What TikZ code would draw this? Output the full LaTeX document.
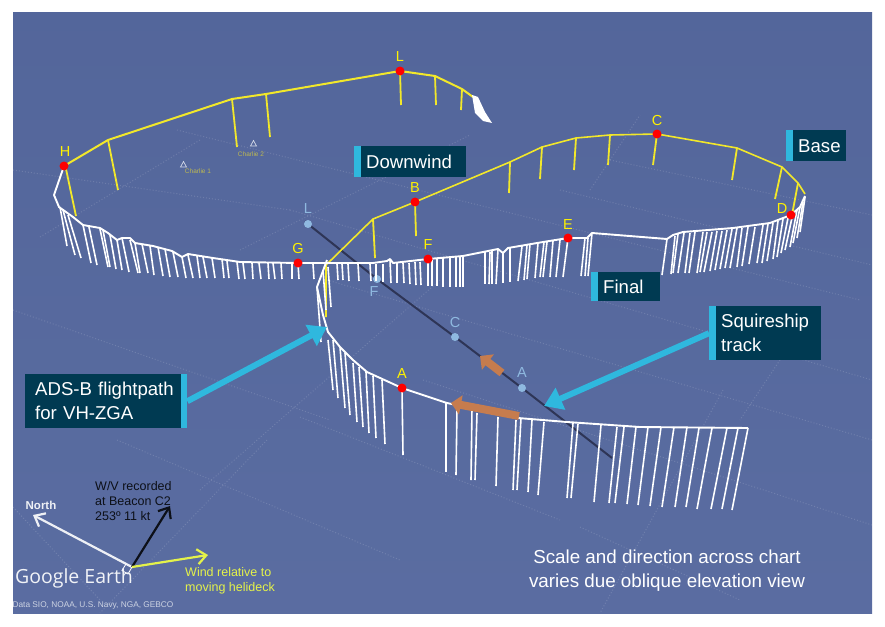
\documentclass[tikz,border=0pt]{standalone}
\usepackage{fontspec}
\setmainfont{Liberation Sans}
\newfontfamily\earthfont{Open Sans}
\usetikzlibrary{arrows.meta, positioning}
\definecolor{seablue}{HTML}{55689E}
\definecolor{boxdark}{HTML}{003A52}
\definecolor{accentcyan}{HTML}{2FB8DE}
\definecolor{pathyellow}{HTML}{F2E82A}
\definecolor{windyellow}{HTML}{E4F24A}
\definecolor{tracknavy}{HTML}{2E3556}
\definecolor{dotblue}{HTML}{8FB9E0}
\definecolor{trackorange}{HTML}{C67C4E}
\tikzset{
  gridline/.style={white, opacity=0.14, dotted, line width=1pt},
  whitepath/.style={white, line width=1.9pt, line join=round},
  hanger/.style={white, line width=1.6pt},
  yellowpath/.style={pathyellow, line width=2pt, line join=round},
  yellowbar/.style={pathyellow, line width=1.8pt},
  reddot/.style={circle, fill=red, inner sep=0pt, minimum size=9pt},
  bluedot/.style={circle, fill=dotblue, inner sep=0pt, minimum size=8pt},
  fixlabel/.style={text=yellow, font=\fontsize{14.5}{14}\selectfont, inner sep=0pt},
  tracklabel/.style={text=dotblue, font=\fontsize{14.5}{14}\selectfont, inner sep=0pt},
  infobox/.style={fill=boxdark, text=white, anchor=north west, align=left, inner xsep=12pt, inner ysep=0pt,
    font=\fontsize{18.6}{24}\selectfont},
  callout/.style={accentcyan, line width=6pt, -{Triangle[length=18pt, width=23pt]}},
  headarrow/.style={trackorange, line width=8pt, -{Triangle[length=10pt, width=19pt]}},
  compass/.style={line width=2.2pt, -{Straight Barb[length=9pt, width=15pt]}},
  smalltext/.style={inner sep=0pt, font=\fontsize{12.5}{15}\selectfont, align=left},
  charlie/.style={text=pathyellow!55!gray, font=\fontsize{6.5}{7}\selectfont, inner sep=0pt},
}

\begin{document}
\begin{tikzpicture}[x=1pt, y=-1pt]
\useasboundingbox (0,0) rectangle (885,626);

%% ─── Sea background and grid ────────────────────────────────────────────────
\fill[white] (0,0) rectangle (885,626);
\shade[top color=seablue!98!black, bottom color=seablue!97!white] (13,13) rectangle (872,613);
\begin{scope}
  \clip (13,13) rectangle (872,613);
  \foreach \xa/\ya/\xb/\yb in {177/130/860/300, 290/210/872/380, 327/280/872/440, 117/440/400/560,
      423/380/872/525, 300/417/560/520, 580/527/740/600, 560/190/872/265, 610/160/872/215,
      13/507/100/600, 13/170/290/210, 13/310/330/420, 723/390/600/613, 440/280/200/490,
      267/440/100/613, 40/237/200/140, 240/250/470/135, 590/190/640/115, 800/330/740/420} {
    \draw[gridline] (\xa,\ya) -- (\xb,\yb);
  }
\end{scope}

%% ─── Charlie markers ────────────────────────────────────────────────────────
\draw[white!75!seablue, line width=0.7pt] (180.5,167) -- (183.5,161.5) -- (186.5,167) -- cycle;
\draw[white!75!seablue, line width=0.7pt] (250.5,146) -- (253.5,140.5) -- (256.5,146) -- cycle;
\node[charlie] (charlieOne) at (198,171) {Charlie 1};
\node[charlie] (charlieTwo) at (251,154) {Charlie 2};

%% ─── Squireship track ───────────────────────────────────────────────────────
\node[bluedot] (trackL) at (308,224) {};
\node[bluedot] (trackF) at (377,279) {};
\node[bluedot] (trackC) at (455,337) {};
\node[bluedot] (trackA) at (522,388) {};
\coordinate (trackStart) at (612,458);
\coordinate (trackNose) at (305,221);
\draw[tracknavy, line width=2pt] (trackStart) -- (trackA) -- (trackC) -- (trackF) -- (trackL) -- (trackNose);
\node[tracklabel] (labL) at (308,209) {L};
\node[tracklabel] (labF) at (374,292) {F};
\node[tracklabel] (labC) at (455,323) {C};
\node[tracklabel] (labA) at (522,373) {A};

%% ─── Yellow flightpath and its droplines ────────────────────────────────────
\draw[yellowpath] (64,166) -- (108,140) -- (232,99) -- (266,94) -- (400,71) -- (435,76) -- (462,89) -- (473,97);
\draw[yellowpath, line width=1.6pt] (326,317) -- (326,265) -- (373,219) -- (415,202) -- (510,162) -- (542,147)
  -- (576,138) -- (610,135) -- (657,134) -- (737,148) -- (782,167) -- (798,183) -- (805,194);
\foreach \xa/\ya/\xb/\yb in {66/169/76/216, 108/140/118/190, 232/99/237/147, 266/94/270/137,
    400/71/401/105, 435/76/436/105, 462/89/461/110, 373/219/375/258, 415/202/416/236,
    510/162/509/193, 542/147/540/179, 576/138/574/170, 610/135/608/165, 657/134/653/165,
    737/148/732/180, 782/167/775/199, 798/183/792/215} {
  \draw[yellowbar] (\xa,\ya) -- (\xb,\yb);
}
\fill[white] (472,95) -- (478,97) -- (485,112) -- (492,123) -- (483,121) -- (475,113) -- cycle;

%% ─── White ADS-B path ───────────────────────────────────────────────────────
\draw[whitepath] (64,166) -- (54,195) -- (59,207) -- (73,217) -- (83,225) -- (100,228) -- (108,233) -- (117,240)
  -- (122,238) -- (130,238) -- (135,243) -- (153,246) -- (172,251) -- (182,257) -- (188,254) -- (213,258)
  -- (240,262) -- (298,263) -- (373,263) -- (387,261) -- (390,259) -- (393,263) -- (428,259) -- (463,256)
  -- (483,252) -- (498,249) -- (503,253) -- (508,248) -- (543,242) -- (568,238) -- (587,238) -- (592,233)
  -- (667,239) -- (673,235) -- (683,232) -- (733,228) -- (770,223) -- (791,215) -- (800,207) -- (805,196);
\draw[whitepath] (327,260) -- (317,287) -- (323,315) -- (328,332) -- (340,347) -- (353,360) -- (367,372)
  -- (402,388) -- (447,403) -- (518,418) -- (567,422) -- (640,427) -- (748,428);

%% left and centre of the circuit
\foreach \xa/\ya/\xb/\yb in {60/207/67/246, 63/210/75/255, 68/215/81/258, 83/225/91/263, 89/227/97/265,
    100/229/108/267, 103/230/110/267, 110/235/116/269, 117/240/122/270, 122/238/129/272, 130/240/138/273,
    135/243/140/273, 142/244/148/273, 150/246/154/275, 158/247/163/276, 165/249/170/277, 173/252/178/277,
    182/257/186/278, 188/255/193/278, 197/256/200/278, 203/257/207/278, 212/258/215/278, 222/259/224/278,
    227/261/229/278, 237/262/239/279, 243/263/245/279, 252/263/253/279, 259/263/261/279, 268/263/269/279,
    273/263/275/279, 281/263/282/279, 292/264/292/279, 298/264/299/279, 313/264/314/279,
    337/264/338/280, 342/264/343/280, 348/264/349/281, 358/264/359/281, 370/264/371/281, 376/264/376/281,
    383/264/383/282, 390/260/391/283, 397/263/397/283, 403/263/404/283, 409/263/410/284, 415/262/416/285,
    420/262/421/285, 428/260/428/286, 432/260/432/286, 437/259/437/286, 443/258/443/287, 450/258/450/287,
    456/257/456/287, 460/256/460/287, 463/256/463/287, 485/252/485/284, 490/252/489/284, 492/251/492/284,
    498/249/496/284, 503/252/503/283, 510/247/510/282, 522/246/518/281, 527/245/524/280, 530/244/527/279,
    538/243/535/278, 544/242/540/277, 547/242/543/277, 553/241/550/277, 560/240/556/277, 568/238/563/277} {
  \draw[hanger] (\xa,\ya) -- (\xb,\yb);
}
%% right of the circuit
\foreach \xa/\ya/\xb/\yb in {585/238/581/276, 588/238/585/276, 592/233/588/276, 667/239/662/275, 675/236/671/274,
    678/234/673/273, 684/233/678/273, 690/233/685/273, 695/232/689/273, 703/232/697/273, 707/232/700/272,
    712/232/704/272, 717/231/710/271, 722/231/715/270, 727/230/720/269, 732/229/725/268, 737/228/730/268,
    742/228/737/267, 748/227/742/266, 755/227/749/264, 763/225/757/263, 768/224/762/263, 773/223/767/261,
    778/221/773/259, 783/219/777/257, 788/218/781/253, 793/213/785/250, 797/210/790/247, 800/207/793/243,
    803/202/797/238, 805/197/800/232} {
  \draw[hanger] (\xa,\ya) -- (\xb,\yb);
}
%% final approach
\foreach \xa/\ya/\xb/\yb in {317/287/321/342, 328/267/331/307, 323/270/326/310, 328/340/333/390, 333/340/338/398,
    340/347/345/408, 345/353/350/415, 353/363/357/422, 359/367/363/427, 366/372/369/433, 373/376/376/438,
    382/380/385/444, 402/390/403/455, 446/403/446/472, 457/408/456/475, 472/408/471/480, 477/413/475/480,
    498/417/496/486, 516/420/513/490, 521/418/517/490, 532/420/528/492, 544/422/538/495, 573/423/567/498,
    578/424/571/498, 601/425/594/502, 617/427/609/503, 624/427/615/503, 636/427/627/504, 648/427/638/505,
    661/427/650/506, 674/427/662/507, 687/427/675/507, 699/428/686/507, 712/428/697/509, 727/428/711/509,
    738/428/722/509, 748/428/732/510} {
  \draw[hanger] (\xa,\ya) -- (\xb,\yb);
}

%% ─── Red fixes ──────────────────────────────────────────────────────────────
\foreach \lbl/\px/\py/\lx/\ly in {H/64/166/65/152, L/400/71/400/57, B/415/202/415/188, C/657/134/657/121,
    D/791/215/782/209, E/568/238/568/225, F/428/259/428/245, G/298/263/298/249, A/402/388/402/374} {
  \node[reddot] (fix\lbl) at (\px,\py) {};
  \node[fixlabel] (name\lbl) at (\lx,\ly) {\lbl};
}

%% ─── Orange heading arrows ──────────────────────────────────────────────────
\coordinate (headAtail) at (502,373);
\coordinate (headAtip) at (480,356);
\coordinate (headBtail) at (519,416);
\coordinate (headBtip) at (451,403);
\draw[headarrow] (headAtail) -- (headAtip);
\draw[headarrow] (headBtail) -- (headBtip);

%% ─── Text boxes ─────────────────────────────────────────────────────────────
\node[infobox, minimum height=31pt, text width=88pt] (downwind) at (354,146) {Downwind};
\node[infobox, minimum height=31pt, text width=36pt] (base) at (786,130) {Base};
\node[infobox, minimum height=29pt, text width=45pt] (final) at (591,272) {Final};
\node[infobox, minimum height=54pt, text width=88pt] (squireship) at (709,306) {Squireship\\track};
\node[infobox, minimum height=54pt, inner xsep=10pt, text width=142pt] (adsb) at (25,374) {ADS-B flightpath\\for VH-ZGA};
\foreach \boxname in {downwind, base, final, squireship} {
  \fill[accentcyan] (\boxname.north west) rectangle ([xshift=7pt]\boxname.south west);
}
\fill[accentcyan] ([xshift=-6pt]adsb.north east) rectangle (adsb.south east);

%% ─── Callout arrows ─────────────────────────────────────────────────────────
\coordinate (adsbTip) at (327,327);
\coordinate (trackTip) at (544,406);
\draw[callout] (adsb.east) -- (adsbTip);
\draw[callout] (squireship.west) -- (trackTip);

%% ─── Compass group ──────────────────────────────────────────────────────────
\coordinate (compassO) at (132,567);
\coordinate (northTip) at (33,515);
\coordinate (windTip) at (170,506);
\coordinate (relTip) at (208,555);
\draw[compass, white!90!seablue] (compassO) -- (northTip);
\draw[compass, black!85!seablue] (compassO) -- (windTip);
\draw[compass, windyellow] (compassO) -- (relTip);
\draw[white, line width=0.8pt] (132,567) -- (128,574) -- (122,570.5) -- (126,564);
\node[smalltext, text=white!90!seablue, font=\bfseries\fontsize{11.5}{14}\selectfont] (northLabel) at (41,505) {North};
\node[smalltext, text=black!85!seablue, anchor=north west] (wvLabel) at (95,481) {W/V recorded\\at Beacon C2\\253º 11 kt};
\node[smalltext, text=windyellow, anchor=north west] (relLabel) at (185,567) {Wind relative to\\moving helideck};

%% ─── Google Earth credit and note ───────────────────────────────────────────
\node[text=white!92!seablue, inner sep=0pt, font=\earthfont\fontsize{19.5}{20}\selectfont] (earth) at (74,578) {Google Earth};
\node[text=white!70!seablue, inner sep=0pt, font=\fontsize{8.3}{9}\selectfont] (credit) at (93,605) {Data SIO, NOAA, U.S. Navy, NGA, GEBCO};
\node[text=white, inner sep=0pt, align=center, font=\fontsize{18.8}{24}\selectfont] (note) at (667,571)
  {Scale and direction across chart\\varies due oblique elevation view};

\end{tikzpicture}
\end{document}
